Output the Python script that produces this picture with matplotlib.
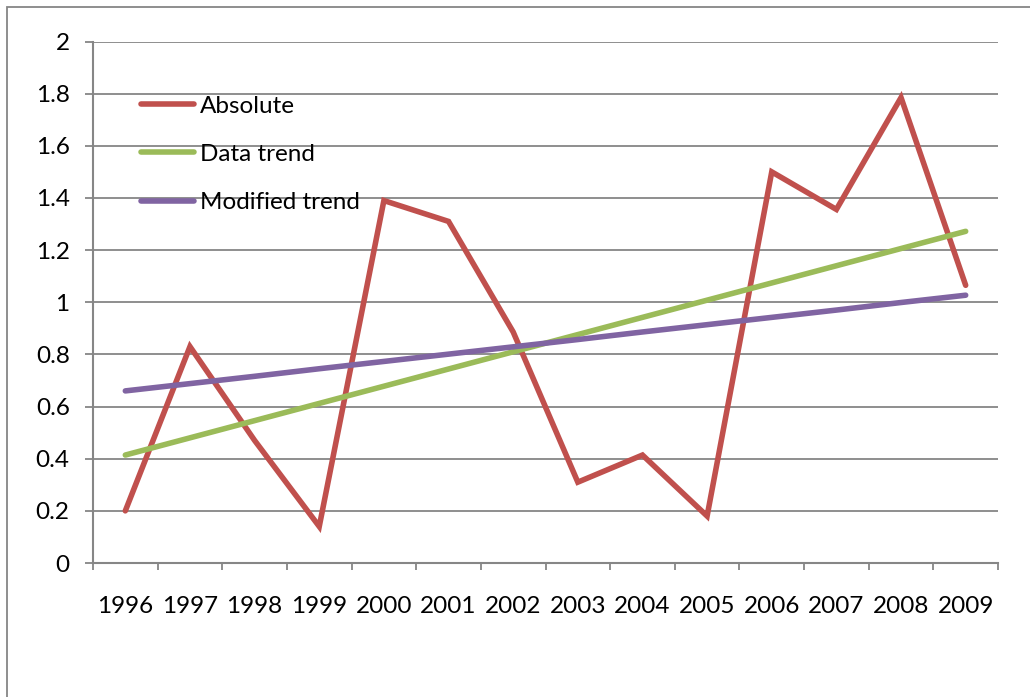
import matplotlib
matplotlib.use("Agg")
import matplotlib.pyplot as plt
from matplotlib.patches import Rectangle
from matplotlib.ticker import FixedLocator, MultipleLocator

plt.rcParams["font.family"] = ["Lato", "DejaVu Sans"]

years = ["1996", "1997", "1998", "1999", "2000", "2001", "2002",
         "2003", "2004", "2005", "2006", "2007", "2008", "2009"]
absolute = [0.20, 0.83, 0.47, 0.14, 1.39, 1.31, 0.886,
            0.31, 0.414, 0.18, 1.50, 1.356, 1.785, 1.065]
data_trend = [0.414, 0.48, 0.546, 0.612, 0.678, 0.744, 0.81,
              0.876, 0.942, 1.008, 1.074, 1.14, 1.206, 1.272]
modified_trend = [0.66, 0.688, 0.716, 0.745, 0.773, 0.801, 0.829,
                  0.857, 0.886, 0.914, 0.942, 0.970, 0.999, 1.027]

W, H = 1030, 697
fig = plt.figure(figsize=(W / 100, H / 100), dpi=100)
ax = fig.add_axes([93 / W, 1 - 563 / H, (998 - 93) / W, (563 - 41.5) / H])

grid_col = "#868686"
fs = 17.5

# outer chart frame (runs off the right and bottom edges)
fig.patches.append(Rectangle((7 / W, -0.5), 2, 1.5 - 7 / H, transform=fig.transFigure,
                             fill=False, edgecolor=grid_col, lw=1.3, zorder=0))

x = list(range(len(years)))
lw = 4.0
ax.plot(x, absolute, color="#C0504D", lw=lw, label="Absolute",
        solid_capstyle="round", solid_joinstyle="miter", zorder=3)
ax.plot(x, data_trend, color="#9BBB59", lw=lw, label="Data trend",
        solid_capstyle="round", zorder=3)
ax.plot(x, modified_trend, color="#8064A2", lw=lw, label="Modified trend",
        solid_capstyle="round", zorder=3)

ax.set_xlim(-0.5, len(years) - 0.5)
ax.set_ylim(0, 2)
ax.yaxis.set_major_locator(MultipleLocator(0.2))
ax.set_yticklabels([("%.1f" % v).rstrip("0").rstrip(".") if v else "0"
                    for v in ax.get_yticks()])

ax.set_xticks(x)
ax.set_xticklabels(years)
ax.xaxis.set_minor_locator(FixedLocator([i - 0.5 for i in range(len(years) + 1)]))

for yv in ax.get_yticks()[1:]:
    ax.axhline(yv, color=grid_col, lw=1.3, zorder=1)

for s in ("top", "right"):
    ax.spines[s].set_visible(False)
for s in ("left", "bottom"):
    ax.spines[s].set_color(grid_col)
    ax.spines[s].set_linewidth(1.5)

ax.tick_params(axis="y", direction="out", length=5.8, width=1.3, color=grid_col,
               labelsize=fs, pad=11)
ax.tick_params(axis="x", which="major", length=0, labelsize=fs, pad=24)
ax.tick_params(axis="x", which="minor", direction="out", length=5, width=1.3,
               color=grid_col)

leg = ax.legend(loc="upper left", bbox_to_anchor=(141 / W, 1 - 95.5 / H),
                bbox_transform=fig.transFigure, frameon=False, fontsize=fs,
                handlelength=2.18, handletextpad=0.25, labelspacing=1.13,
                borderpad=0, borderaxespad=0)

fig.savefig("out.png", dpi=100, facecolor="white")
